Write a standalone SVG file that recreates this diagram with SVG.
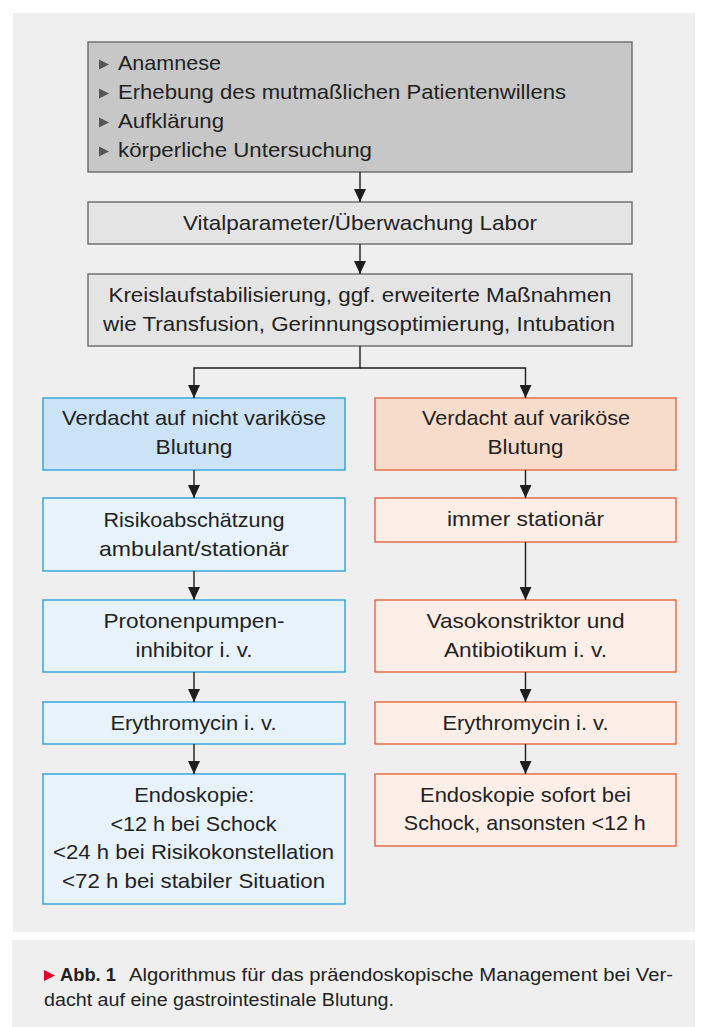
<svg xmlns="http://www.w3.org/2000/svg" width="708" height="1027" viewBox="0 0 708 1027">
<defs>
<marker id="ah" markerUnits="userSpaceOnUse" markerWidth="13" markerHeight="12" refX="13" refY="6" orient="auto">
<path d="M0,0 L13,6 L0,12 z" fill="#1e1e1e"/>
</marker>
<style>
text{font-family:"Liberation Sans","Noto Sans",sans-serif;font-size:21px;fill:#222;}
.c{text-anchor:middle;}
.cap{font-size:17.5px;}
.b{font-weight:bold;}
.g1{fill:#c7c7c7;stroke:#6a6a6a;stroke-width:1.4;}
.g2{fill:#e4e4e4;stroke:#6a6a6a;stroke-width:1.4;}
.bl1{fill:#cce3f6;stroke:#2ea1dc;stroke-width:1.4;}
.bl2{fill:#e7f2fb;stroke:#2ea1dc;stroke-width:1.4;}
.or1{fill:#f8dccb;stroke:#e5673d;stroke-width:1.4;}
.or2{fill:#fdefe7;stroke:#e5673d;stroke-width:1.4;}
.con path{fill:none;stroke:#1e1e1e;stroke-width:1.4;}
</style>
</defs>
<rect x="0" y="0" width="708" height="1027" fill="#ffffff"/>
<rect x="13" y="13" width="682" height="919" fill="#efefef"/>
<rect x="12" y="940" width="683" height="87" fill="#efefef"/>

<g id="n-anamnese">
<rect class="g1" x="88" y="42" width="544" height="130"/>
<path d="M99,59.5 L109,64.5 L99,69.5 z" fill="#555"/>
<path d="M99,88.5 L109,93.5 L99,98.5 z" fill="#555"/>
<path d="M99,117.5 L109,122.5 L99,127.5 z" fill="#555"/>
<path d="M99,146.5 L109,151.5 L99,156.5 z" fill="#555"/>
<text x="118" y="70" textLength="103" lengthAdjust="spacingAndGlyphs">Anamnese</text>
<text x="118" y="99" textLength="448" lengthAdjust="spacingAndGlyphs">Erhebung des mutmaßlichen Patientenwillens</text>
<text x="118" y="128" textLength="106" lengthAdjust="spacingAndGlyphs">Aufklärung</text>
<text x="118" y="157" textLength="254" lengthAdjust="spacingAndGlyphs">körperliche Untersuchung</text>
</g>

<g id="n-vital">
<rect class="g2" x="88" y="202" width="544" height="42"/>
<text class="c" x="360" y="230" textLength="354" lengthAdjust="spacingAndGlyphs">Vitalparameter/Überwachung Labor</text>
</g>

<g id="n-kreislauf">
<rect class="g2" x="88" y="274" width="544" height="72"/>
<text class="c" x="360" y="302" textLength="503" lengthAdjust="spacingAndGlyphs">Kreislaufstabilisierung, ggf. erweiterte Maßnahmen</text>
<text class="c" x="359" y="331" textLength="512" lengthAdjust="spacingAndGlyphs">wie Transfusion, Gerinnungsoptimierung, Intubation</text>
</g>

<g id="n-nv-verdacht">
<rect class="bl1" x="43" y="398" width="302" height="72"/>
<text class="c" x="194" y="425" textLength="264" lengthAdjust="spacingAndGlyphs">Verdacht auf nicht variköse</text>
<text class="c" x="194" y="454" textLength="77" lengthAdjust="spacingAndGlyphs">Blutung</text>
</g>
<g id="n-nv-risiko">
<rect class="bl2" x="43" y="498" width="302" height="73"/>
<text class="c" x="194" y="527" textLength="181" lengthAdjust="spacingAndGlyphs">Risikoabschätzung</text>
<text class="c" x="194" y="556" textLength="190" lengthAdjust="spacingAndGlyphs">ambulant/stationär</text>
</g>
<g id="n-nv-ppi">
<rect class="bl2" x="43" y="600" width="302" height="72"/>
<text class="c" x="194" y="628" textLength="181" lengthAdjust="spacingAndGlyphs">Protonenpumpen-</text>
<text class="c" x="194" y="657" textLength="117" lengthAdjust="spacingAndGlyphs">inhibitor i. v.</text>
</g>
<g id="n-nv-ery">
<rect class="bl2" x="43" y="702" width="302" height="42"/>
<text class="c" x="193.5" y="730" textLength="166" lengthAdjust="spacingAndGlyphs">Erythromycin i. v.</text>
</g>
<g id="n-nv-endo">
<rect class="bl2" x="43" y="774" width="302" height="130"/>
<text class="c" x="194.3" y="802" textLength="120" lengthAdjust="spacingAndGlyphs">Endoskopie:</text>
<text class="c" x="193.5" y="831" textLength="166" lengthAdjust="spacingAndGlyphs">&lt;12 h bei Schock</text>
<text class="c" x="193.6" y="859" textLength="281" lengthAdjust="spacingAndGlyphs">&lt;24 h bei Risikokonstellation</text>
<text class="c" x="193.6" y="888" textLength="263" lengthAdjust="spacingAndGlyphs">&lt;72 h bei stabiler Situation</text>
</g>

<g id="n-v-verdacht">
<rect class="or1" x="375" y="398" width="301" height="72"/>
<text class="c" x="526" y="425" textLength="208" lengthAdjust="spacingAndGlyphs">Verdacht auf variköse</text>
<text class="c" x="525.5" y="454" textLength="76" lengthAdjust="spacingAndGlyphs">Blutung</text>
</g>
<g id="n-v-stationaer">
<rect class="or2" x="375" y="498" width="301" height="44"/>
<text class="c" x="525.5" y="526" textLength="157" lengthAdjust="spacingAndGlyphs">immer stationär</text>
</g>
<g id="n-v-vaso">
<rect class="or2" x="375" y="600" width="301" height="72"/>
<text class="c" x="525.5" y="628" textLength="198" lengthAdjust="spacingAndGlyphs">Vasokonstriktor und</text>
<text class="c" x="525.5" y="657" textLength="163" lengthAdjust="spacingAndGlyphs">Antibiotikum i. v.</text>
</g>
<g id="n-v-ery">
<rect class="or2" x="375" y="702" width="301" height="42"/>
<text class="c" x="525.5" y="730" textLength="166" lengthAdjust="spacingAndGlyphs">Erythromycin i. v.</text>
</g>
<g id="n-v-endo">
<rect class="or2" x="375" y="774" width="301" height="72"/>
<text class="c" x="525.5" y="802" textLength="211" lengthAdjust="spacingAndGlyphs">Endoskopie sofort bei</text>
<text class="c" x="524.8" y="830" textLength="242" lengthAdjust="spacingAndGlyphs">Schock, ansonsten &lt;12 h</text>
</g>

<g id="connectors" class="con">
<path d="M360,172 V202" marker-end="url(#ah)"/>
<path d="M360,244 V274" marker-end="url(#ah)"/>
<path d="M360,346 V368 H194 V398" marker-end="url(#ah)"/>
<path d="M360,368 H525.5 V398" marker-end="url(#ah)"/>
<path d="M194,470 V498" marker-end="url(#ah)"/>
<path d="M194,571 V600" marker-end="url(#ah)"/>
<path d="M194,672 V702" marker-end="url(#ah)"/>
<path d="M194,744 V774" marker-end="url(#ah)"/>
<path d="M525.5,470 V498" marker-end="url(#ah)"/>
<path d="M525.5,542 V600" marker-end="url(#ah)"/>
<path d="M525.5,672 V702" marker-end="url(#ah)"/>
<path d="M525.5,744 V774" marker-end="url(#ah)"/>
</g>

<g id="caption">
<path d="M44,970 L55,975.5 L44,981 z" fill="#e4002b"/>
<text class="cap b" x="60" y="981" textLength="56" lengthAdjust="spacingAndGlyphs">Abb. 1</text>
<text class="cap" x="129" y="981" textLength="544" lengthAdjust="spacingAndGlyphs">Algorithmus für das präendoskopische Management bei Ver-</text>
<text class="cap" x="44" y="1006" textLength="350" lengthAdjust="spacingAndGlyphs">dacht auf eine gastrointestinale Blutung.</text>
</g>
</svg>
